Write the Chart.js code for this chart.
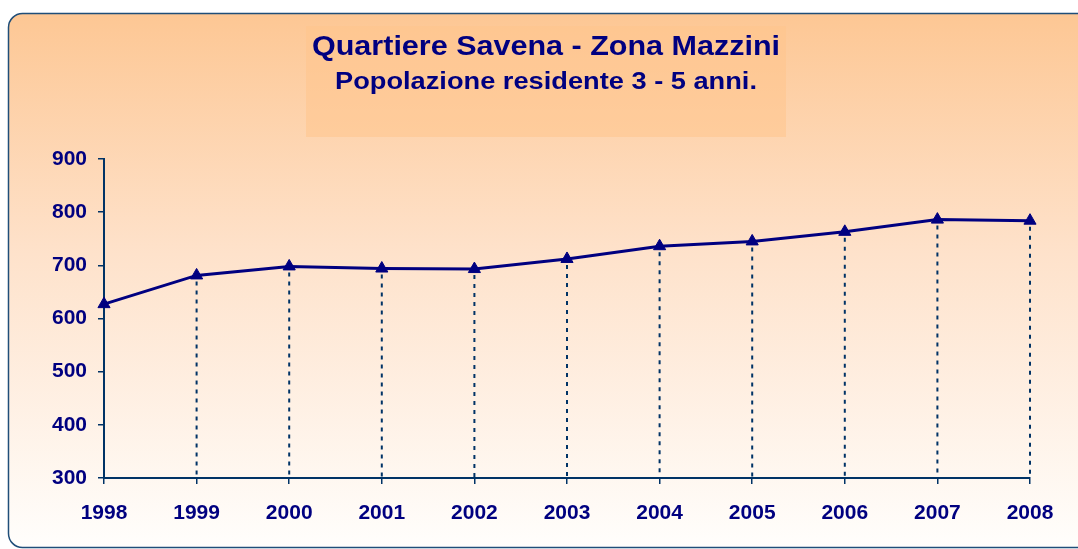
<!DOCTYPE html>
<html>
<head>
<meta charset="utf-8">
<script src="https://cdn.jsdelivr.net/npm/chart.js@4"></script>
<style>
  html, body { margin: 0; padding: 0; background: #ffffff; }
  #wrap { width: 1078px; height: 549px; position: relative; }
</style>
</head>
<body>
<div id="wrap"><canvas id="myChart" width="1078" height="549"></canvas></div>
<script>
var years = ['1998', '1999', '2000', '2001', '2002', '2003', '2004', '2005', '2006', '2007', '2008'];
var residents = [627, 681, 698, 694, 693, 712, 736, 745, 763, 786, 784];
var yTicks = [300, 400, 500, 600, 700, 800, 900];
var titleLines = ['Quartiere Savena - Zona Mazzini', 'Popolazione residente 3 - 5 anni.'];

var navy = '#000080';
var axisBlue = '#003366';
var fontFamily = '"Liberation Sans", Arial, sans-serif';

// the original text is a bit wider than the font, so stretch it to the width seen
function wideText(ctx, text, cx, baseline, font, width) {
    ctx.font = font;
    var k = width / ctx.measureText(text).width;
    ctx.save();
    ctx.translate(cx, baseline);
    ctx.scale(k, 1);
    ctx.fillText(text, 0, 0);
    ctx.restore();
}

// rounded frame, gradient fill and the title box behind everything
var backdrop = {
    id: 'backdrop',
    beforeDraw: function (chart) {
        var ctx = chart.ctx;
        ctx.save();
        var x = 8.5, y = 13.5, w = 1100, h = 534, r = 14;
        var grad = ctx.createLinearGradient(0, y, 0, y + h);
        grad.addColorStop(0, '#fdc794');
        grad.addColorStop(0.45, '#fee2cb');
        grad.addColorStop(1, '#fffefc');
        ctx.beginPath();
        ctx.moveTo(x + r, y);
        ctx.lineTo(x + w, y);
        ctx.lineTo(x + w, y + h);
        ctx.lineTo(x + r, y + h);
        ctx.arcTo(x, y + h, x, y + h - r, r);
        ctx.lineTo(x, y + r);
        ctx.arcTo(x, y, x + r, y, r);
        ctx.closePath();
        ctx.fillStyle = grad;
        ctx.fill();
        ctx.lineWidth = 1.5;
        ctx.strokeStyle = '#1f4e79';
        ctx.stroke();

        ctx.fillStyle = 'rgba(255, 196, 140, 0.55)';
        ctx.fillRect(306, 26, 480, 111);

        ctx.fillStyle = navy;
        ctx.textAlign = 'center';
        ctx.textBaseline = 'alphabetic';
        wideText(ctx, titleLines[0], 546, 55, 'bold 28px ' + fontFamily, 468);
        wideText(ctx, titleLines[1], 546, 89, 'bold 24px ' + fontFamily, 422);
        ctx.restore();
    }
};

// dotted drop lines from each point down to the x axis
var dropLines = {
    id: 'dropLines',
    beforeDatasetsDraw: function (chart) {
        var ctx = chart.ctx;
        var meta = chart.getDatasetMeta(0);
        var bottom = chart.scales.y.getPixelForValue(300);
        ctx.save();
        ctx.strokeStyle = axisBlue;
        ctx.lineWidth = 2;
        ctx.setLineDash([4, 5]);
        meta.data.forEach(function (pt, i) {
            if (i === 0) return;
            ctx.beginPath();
            ctx.moveTo(pt.x, pt.y + 6);
            ctx.lineTo(pt.x, bottom);
            ctx.stroke();
        });
        ctx.restore();
    }
};

var ctx = document.getElementById('myChart').getContext('2d');
var chart = new Chart(ctx, {
    type: 'line',
    data: {
        labels: years,
        datasets: [{
            data: residents,
            borderColor: navy,
            backgroundColor: navy,
            borderWidth: 3,
            pointStyle: 'triangle',
            pointRadius: 7,
            pointHoverRadius: 7,
            pointBackgroundColor: navy,
            pointBorderColor: navy,
            pointBorderWidth: 1,
            tension: 0,
            fill: false
        }]
    },
    options: {
        responsive: false,
        animation: false,
        events: [],
        layout: { padding: { top: 159, right: 48, left: 0, bottom: 0 } },
        plugins: {
            legend: { display: false },
            title: { display: false },
            tooltip: { enabled: false }
        },
        scales: {
            x: {
                offset: false,
                grid: { drawOnChartArea: false, drawTicks: true, tickLength: 6, color: axisBlue, lineWidth: 1.5 },
                border: { display: true, color: axisBlue, width: 2 },
                ticks: {
                    color: navy,
                    padding: 17,
                    maxRotation: 0,
                    autoSkip: false,
                    font: { family: fontFamily, size: 21, weight: 'bold' }
                },
                afterFit: function (scale) { scale.height = 71; }
            },
            y: {
                min: 300,
                max: 900,
                afterBuildTicks: function (scale) {
                    scale.ticks = yTicks.map(function (v) { return { value: v }; });
                },
                grid: { drawOnChartArea: false, drawTicks: true, tickLength: 6, color: axisBlue, lineWidth: 1.5 },
                border: { display: true, color: axisBlue, width: 2 },
                ticks: {
                    color: navy,
                    padding: 11,
                    font: { family: fontFamily, size: 21, weight: 'bold' }
                },
                afterFit: function (scale) { scale.width = 104; }
            }
        }
    },
    plugins: [backdrop, dropLines]
});
</script>
</body>
</html>
